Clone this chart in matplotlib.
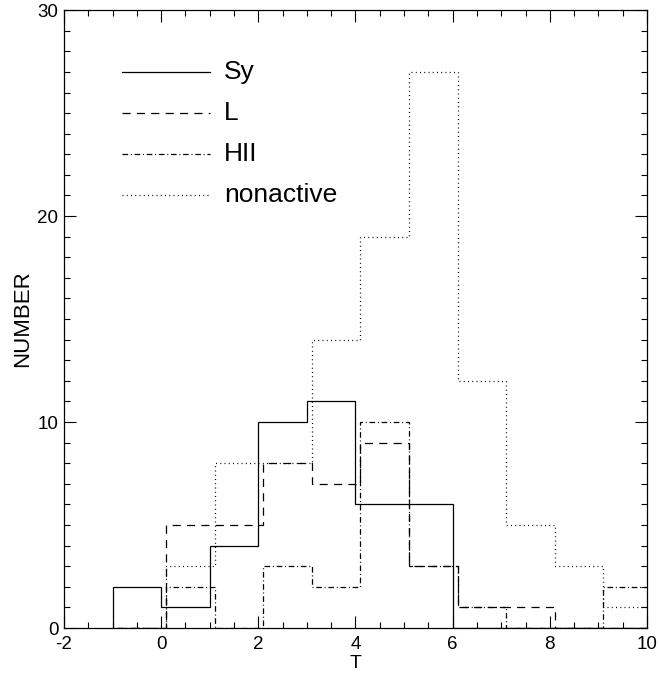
import matplotlib
matplotlib.use("Agg")
import matplotlib.pyplot as plt
import numpy as np

plt.rcParams['font.family'] = ['Liberation Sans', 'DejaVu Sans']
plt.rcParams['axes.unicode_minus'] = False

# Morphological type bins (left edges) and counts per activity class
t_left = [-1, 0, 1, 2, 3, 4, 5, 6, 7, 8, 9]
sy_counts = [2, 1, 4, 10, 11, 6, 6, 0, 0, 0, 0]
liner_counts = [0, 5, 5, 8, 7, 9, 3, 1, 1, 0, 0]
hii_counts = [0, 2, 0, 3, 2, 10, 3, 1, 0, 0, 2]
nonactive_counts = [0, 3, 8, 8, 14, 19, 27, 12, 5, 3, 1]

labels = ["Sy", "L", "HII", "nonactive"]
x_ticks = [-2, 0, 2, 4, 6, 8, 10]
y_ticks = [0, 10, 20, 30]

# small horizontal shift so the non-Seyfert histograms don't hide each other
shift = 0.1

styles = [
    dict(linestyle='-'),
    dict(linestyle=(0, (6.5, 5.0))),
    dict(linestyle=(0, (4.5, 2.2, 0.8, 2.2))),
    dict(linestyle=(0, (0.8, 2.6))),
]

fig = plt.figure(figsize=(6.59, 6.75), dpi=100)
ax = fig.add_axes([0.0971, 0.0696, 0.8847, 0.9154])

edges = np.append(t_left, t_left[-1] + 1).astype(float)
series = [sy_counts, liner_counts, hii_counts, nonactive_counts]
offsets = [0.0, shift, shift, shift]
for vals, off, st in zip(series, offsets, styles):
    ax.stairs(vals, edges + off, baseline=0, color='black', linewidth=0.9, **st)

ax.set_xlim(-2, 10)
ax.set_ylim(0, 30)
ax.set_xticks(x_ticks)
ax.set_xticklabels([str(v) for v in x_ticks])
ax.set_yticks(y_ticks)
ax.set_yticklabels([str(v) for v in y_ticks])
ax.set_xticks(np.arange(-2, 10.01, 0.5), minor=True)
ax.set_yticks(np.arange(0, 30.01, 1), minor=True)
ax.tick_params(which='both', direction='in', top=True, right=True,
               labelsize=13.5, width=0.8, color='black')
ax.tick_params(which='major', length=8.5, pad=4)
ax.tick_params(axis='x', which='major', pad=6)
ax.tick_params(which='minor', length=4.5)
for sp in ax.spines.values():
    sp.set_linewidth(0.9)

ax.set_xlabel("T", fontsize=14, labelpad=1)
ax.set_ylabel("NUMBER", fontsize=16, labelpad=3)

# key drawn inside the plot area
key_y = [27, 25, 23, 21]
for lab, st, yk in zip(labels, styles, key_y):
    ax.plot([-0.8, 1.0], [yk, yk], color='black', linewidth=0.9, **st)
    ax.text(1.3, yk, lab, fontsize=19, va='center', ha='left')

fig.savefig("out.png", dpi=100)
